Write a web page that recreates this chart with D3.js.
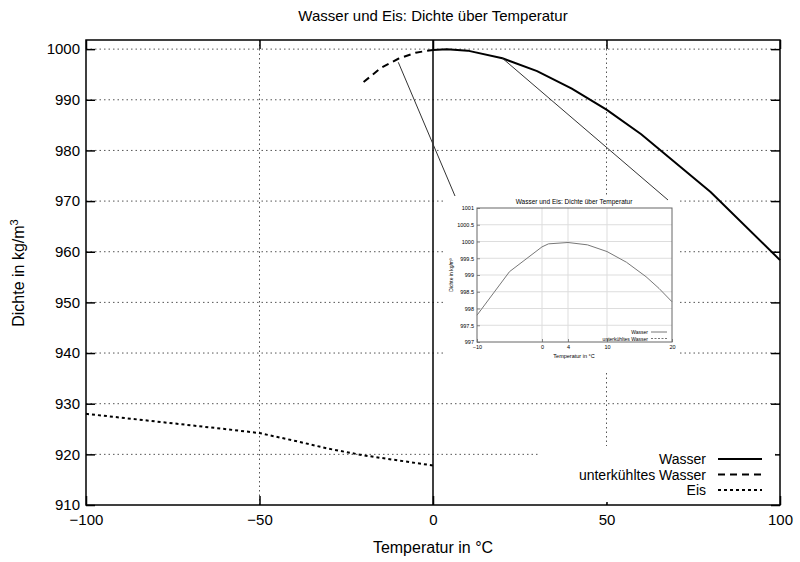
<!DOCTYPE html>
<html><head><meta charset="utf-8">
<script src="https://cdn.jsdelivr.net/npm/d3@7"></script>
<style>body{margin:0;background:#fff}text{font-family:"Liberation Sans",Arial,sans-serif}</style>
</head><body><svg id="c" width="800" height="562"></svg>
<script>
const wasser = [[0,999.84],[4,999.97],[10,999.70],[20,998.20],[30,995.65],[40,992.22],[50,988.04],[60,983.20],[80,971.79],[100,958.35]];
const unterkuehlt = [[-20,993.5],[-15,996.3],[-10,998.1],[-5,999.3],[0,999.84]];
const eis = [[-100,928.0],[-80,926.5],[-60,925.0],[-50,924.2],[-40,922.7],[-30,921.1],[-20,919.8],[-10,918.8],[0,917.8]];
const inset = [[-10,997.8],[-5,999.1],[0,999.84],[1,999.93],[4,999.97],[7,999.9],[10,999.70],[13,999.38],[16,998.95],[18,998.6],[20,998.2]];
const xTicks = [-100,-50,0,50,100];
const yTicks = d3.range(910,1001,10);
const insetX = [-10,0,4,10,20];
const insetY = d3.range(997,1001.01,0.5);

const svg = d3.select('#c');
const x = d3.scaleLinear().domain([-100,100]).range([86,780]);
const y = d3.scaleLinear().domain([910,1001.8]).range([505,40]);

// grid
const dot = '1.5,3';
svg.append('g').selectAll('line').data(yTicks.slice(1)).join('line')
  .attr('x1',86).attr('x2',780).attr('y1',d=>y(d)).attr('y2',d=>y(d))
  .attr('stroke','#555').attr('stroke-dasharray',dot);
svg.append('g').selectAll('line').data([-50,50]).join('line')
  .attr('x1',d=>x(d)).attr('x2',d=>x(d)).attr('y1',40).attr('y2',505)
  .attr('stroke','#555').attr('stroke-dasharray',dot);
svg.append('line').attr('x1',x(0)).attr('x2',x(0)).attr('y1',40).attr('y2',505).attr('stroke','#000').attr('stroke-width',1.5);

// axes on all four sides
const ax = (g,a)=>{g.call(a);g.select('.domain').remove();g.selectAll('line').attr('stroke','#000').attr('stroke-width',1.5);g.selectAll('text').attr('font-size',15).attr('fill','#000');};
svg.append('g').attr('transform','translate(0,505)').call(g=>ax(g,d3.axisBottom(x).tickValues(xTicks).tickSize(-9).tickPadding(9).tickFormat(d=>d<0?'\u2212'+(-d):d)));
svg.append('g').attr('transform','translate(0,40)').call(g=>ax(g,d3.axisTop(x).tickValues(xTicks).tickSize(-9).tickFormat('')));
svg.append('g').attr('transform','translate(86,0)').call(g=>ax(g,d3.axisLeft(y).tickValues(yTicks).tickSize(-9).tickPadding(6).tickFormat(d=>String(d))));
svg.append('g').attr('transform','translate(780,0)').call(g=>ax(g,d3.axisRight(y).tickValues(yTicks).tickSize(-9).tickFormat('')));
svg.append('rect').attr('x',86).attr('y',40).attr('width',694).attr('height',465).attr('fill','none').attr('stroke','#000').attr('stroke-width',1.5);

const line = d3.line().x(d=>x(d[0])).y(d=>y(d[1]));
svg.append('path').datum(wasser).attr('d',line).attr('fill','none').attr('stroke','#000').attr('stroke-width',2);
svg.append('path').datum(unterkuehlt).attr('d',line).attr('fill','none').attr('stroke','#000').attr('stroke-width',2).attr('stroke-dasharray','7,5');
svg.append('path').datum(eis).attr('d',line).attr('fill','none').attr('stroke','#000').attr('stroke-width',2).attr('stroke-dasharray','3,3');

// inset
const ix = d3.scaleLinear().domain([-10,20]).range([477,672]);
const iy = d3.scaleLinear().domain([997,1001]).range([342,208]);
svg.append('rect').attr('x',444).attr('y',195).attr('width',236).attr('height',175).attr('fill','#fff');
svg.append('line').attr('x1',x(-10)).attr('y1',y(997.4)).attr('x2',455).attr('y2',196).attr('stroke','#333');
svg.append('line').attr('x1',x(20)).attr('y1',y(998.2)).attr('x2',668).attr('y2',200).attr('stroke','#333');
svg.append('text').attr('x',574).attr('y',204).attr('text-anchor','middle').attr('font-size',6.5).text('Wasser und Eis: Dichte über Temperatur');
svg.append('g').selectAll('line').data(insetY.slice(1,-1)).join('line').attr('x1',477).attr('x2',672).attr('y1',d=>iy(d)).attr('y2',d=>iy(d)).attr('stroke','#ddd');
svg.append('g').selectAll('line').data(insetX.slice(1,-1)).join('line').attr('y1',208).attr('y2',342).attr('x1',d=>ix(d)).attr('x2',d=>ix(d)).attr('stroke','#ddd');
const iax = (g,a)=>{g.call(a);g.select('.domain').remove();g.selectAll('line').attr('stroke','#888');g.selectAll('text').attr('font-size',5.5).attr('fill','#000');};
svg.append('g').attr('transform','translate(0,342)').call(g=>iax(g,d3.axisBottom(ix).tickValues(insetX).tickSize(-3).tickPadding(3)));
svg.append('g').attr('transform','translate(477,0)').call(g=>iax(g,d3.axisLeft(iy).tickValues(insetY).tickSize(-3).tickPadding(3).tickFormat(d=>String(d))));
svg.append('rect').attr('x',477).attr('y',208).attr('width',195).attr('height',134).attr('fill','none').attr('stroke','#666');
const iline = d3.line().x(d=>ix(d[0])).y(d=>iy(d[1]));
svg.append('path').datum(inset).attr('d',iline).attr('fill','none').attr('stroke','#777');
svg.append('text').attr('x',574).attr('y',358).attr('text-anchor','middle').attr('font-size',5.5).text('Temperatur in °C');
svg.append('text').attr('transform','translate(453,275) rotate(-90)').attr('text-anchor','middle').attr('font-size',5).text('Dichte in kg/m³');
[['Wasser','none',332],['unterkühltes Wasser','2,1.5',338.5]].forEach(([t,da,yy])=>{
  svg.append('text').attr('x',648).attr('y',yy+2).attr('text-anchor','end').attr('font-size',5).text(t);
  svg.append('line').attr('x1',651).attr('x2',667).attr('y1',yy).attr('y2',yy).attr('stroke','#777').attr('stroke-dasharray',da);
});

// legend
svg.append('rect').attr('x',540).attr('y',446).attr('width',235).attr('height',56).attr('fill','#fff');
[['Wasser','none',459],['unterkühltes Wasser','7,5',474.5],['Eis','3,3',490]].forEach(([t,da,yy])=>{
  svg.append('text').attr('x',706).attr('y',yy+5).attr('text-anchor','end').attr('font-size',14).text(t);
  svg.append('line').attr('x1',718).attr('x2',762).attr('y1',yy).attr('y2',yy).attr('stroke','#000').attr('stroke-width',2).attr('stroke-dasharray',da);
});

svg.append('text').attr('x',433).attr('y',21).attr('text-anchor','middle').attr('font-size',15).text('Wasser und Eis: Dichte über Temperatur');
svg.append('text').attr('x',433).attr('y',553).attr('text-anchor','middle').attr('font-size',16).text('Temperatur in °C');
svg.append('text').attr('transform','translate(24,273) rotate(-90)').attr('text-anchor','middle').attr('font-size',16)
  .html('Dichte in kg/m<tspan dy="-6" font-size="11">3</tspan>');
</script></body></html>
